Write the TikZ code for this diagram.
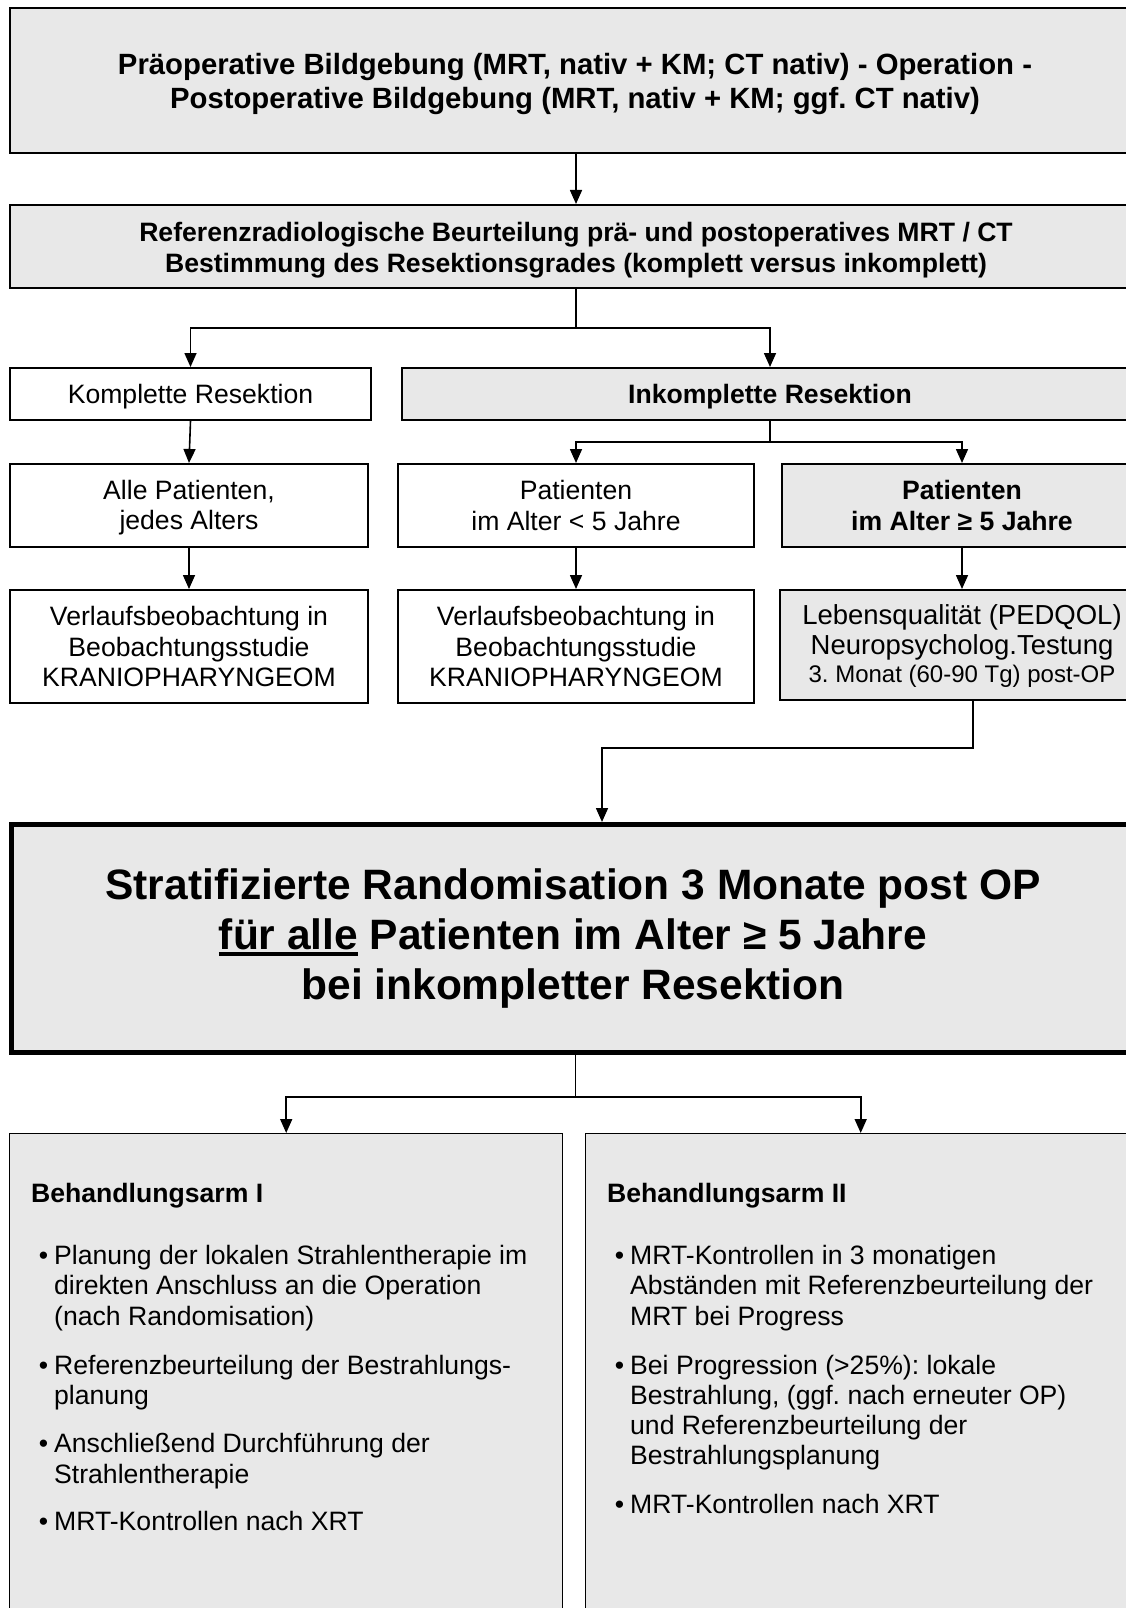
\documentclass[tikz,border=0pt]{standalone}
\usepackage{fontspec}
\setmainfont{Liberation Sans}
\usetikzlibrary{arrows.meta}
\definecolor{boxgray}{RGB}{232,232,232}
\newcommand\ulbar[1]{\setbox0\hbox{#1}\rlap{\rule[-6pt]{\wd0}{3.5pt}}\box0\relax}
\newcommand\bul{\llap{•\hspace{6pt}}}
\newcommand\lift[1]{\rule{0pt}{#1}}
\frenchspacing
\begin{document}
\frenchspacing
\begin{tikzpicture}[x=1pt,y=-1pt,
  box/.style={draw=black,line width=2pt,inner sep=0pt,anchor=north west,align=center,
    font=\fontsize{26.6}{30.5}\selectfont\frenchspacing},
  gbox/.style={box,fill=boxgray},
  boldbox/.style={font=\fontsize{26.6}{30.5}\selectfont\bfseries\frenchspacing},
  conn/.style={line width=1.6pt},
  arr/.style={line width=1.6pt,-{Triangle[length=14pt,width=12pt]}},
  txt/.style={inner sep=0pt,anchor=base west,font=\fontsize{26.6}{30}\selectfont\frenchspacing},
  btxt/.style={inner sep=0pt,anchor=base west,font=\fontsize{26.6}{30}\selectfont\bfseries},
]
\useasboundingbox (0,0) rectangle (1126,1608);
\fill[white] (0,0) rectangle (1126,1608);
\clip (0,0) rectangle (1126,1608);

% top boxes
\node[gbox,minimum width=1132pt,minimum height=145pt] (top) at (9,7) {};
\node[inner sep=0pt,align=center,font=\fontsize{29.3}{33.5}\selectfont\bfseries\frenchspacing] (toptxt) at (575,84)
  {Präoperative Bildgebung (MRT, nativ + KM; CT nativ) - Operation -\\Postoperative Bildgebung (MRT, nativ + KM; ggf. CT nativ)};
\node[gbox,font=\fontsize{26.6}{31.5}\selectfont\bfseries\frenchspacing,minimum width=1132pt,minimum height=83pt] (ref) at (9,204)
  {\lift{27pt}Referenzradiologische Beurteilung prä- und postoperatives MRT / CT\\Bestimmung des Resektionsgrades (komplett versus inkomplett)};

% resection level
\node[box,minimum width=361pt,minimum height=52pt] (komp) at (9,367) {\lift{25.5pt}Komplette Resektion};
\node[gbox,boldbox,minimum width=736pt,minimum height=52pt] (inkomp) at (401,367) {\lift{25.5pt}Inkomplette Resektion};

% patient groups
\node[box,minimum width=358pt,minimum height=83pt] (alle) at (9,463) {\lift{24pt}Alle Patienten,\\jedes Alters};
\node[box,minimum width=356pt,minimum height=83pt] (pk5) at (397,463) {Patienten\\im Alter < 5 Jahre};
\node[gbox,boldbox,minimum width=360pt,minimum height=83pt] (pg5) at (781,463) {Patienten\\im Alter ≥ 5 Jahre};

% follow-up boxes
\node[box,minimum width=358pt,minimum height=113pt] (verl1) at (9,589) {Verlaufsbeobachtung in\\Beobachtungsstudie\\KRANIOPHARYNGEOM};
\node[box,minimum width=356pt,minimum height=113pt] (verl2) at (397,589) {Verlaufsbeobachtung in\\Beobachtungsstudie\\KRANIOPHARYNGEOM};
\node[gbox,font=\fontsize{27.5}{30}\selectfont\frenchspacing,minimum width=364pt,minimum height=110pt] (leb) at (779,589)
  {\lift{22pt}Lebensqualität (PEDQOL)\\Neuropsycholog.Testung\\[-2pt]{\fontsize{24}{27}\selectfont 3. Monat (60-90 Tg) post-OP}};

% randomisation
\node[gbox,line width=5pt,minimum width=1128pt,minimum height=228pt] (rand) at (9,822) {};
\node[inner sep=0pt,align=center,font=\fontsize{42.5}{50}\selectfont\bfseries] (randtxt) at (573,939)
  {Stratifizierte Randomisation 3 Monate post OP\\\ulbar{für alle} Patienten im Alter ≥ 5 Jahre\\bei inkompletter Resektion};

% arms
\node[gbox,line width=1.4pt,minimum width=553pt,minimum height=600pt] (arm1) at (9,1133) {};
\node[gbox,line width=1.4pt,minimum width=550pt,minimum height=600pt] (arm2) at (585,1133) {};

\node[btxt] (a1t) at (31,1202.5) {Behandlungsarm I};
\node[txt] (a1l1) at (54,1264.5) {\bul Planung der lokalen Strahlentherapie im};
\node[txt] (a1l2) at (54,1294.5) {direkten Anschluss an die Operation};
\node[txt] (a1l3) at (54,1325) {(nach Randomisation)};
\node[txt] (a1l4) at (54,1374) {\bul Referenzbeurteilung der Bestrahlungs-};
\node[txt] (a1l5) at (54,1404.5) {planung};
\node[txt] (a1l6) at (54,1452.5) {\bul Anschließend Durchführung der};
\node[txt] (a1l7) at (54,1483) {Strahlentherapie};
\node[txt] (a1l8) at (54,1530.5) {\bul MRT-Kontrollen nach XRT};

\node[btxt] (a2t) at (607,1202.5) {Behandlungsarm II};
\node[txt] (a2l1) at (630,1264.5) {\bul MRT-Kontrollen in 3 monatigen};
\node[txt] (a2l2) at (630,1294.5) {Abständen mit Referenzbeurteilung der};
\node[txt] (a2l3) at (630,1325) {MRT bei Progress};
\node[txt] (a2l4) at (630,1374) {\bul Bei Progression (>25\%): lokale};
\node[txt] (a2l5) at (630,1404.5) {Bestrahlung, (ggf. nach erneuter OP)};
\node[txt] (a2l6) at (630,1434.5) {und Referenzbeurteilung der};
\node[txt] (a2l7) at (630,1464.5) {Bestrahlungsplanung};
\node[txt] (a2l8) at (630,1513.5) {\bul MRT-Kontrollen nach XRT};

% connectors
\draw[arr] (top.south) -- (ref.north);
\draw[conn] (ref.south) -- ++(0,39) coordinate (j1);
\draw[arr] (j1) -| (komp.north);
\draw[arr] (j1) -| (inkomp.north);
\draw[arr] (komp.south) -- (alle.north);
\draw[conn] (inkomp.south) -- ++(0,21) coordinate (j2);
\draw[arr] (j2) -| (pk5.north);
\draw[arr] (j2) -| (pg5.north);
\draw[arr] (alle.south) -- (verl1.north);
\draw[arr] (pk5.south) -- (verl2.north);
\draw[arr] (pg5.south) -- (leb.north);
\coordinate (c1) at (973,748);
\coordinate (c2) at (602,748);
\draw[arr] (leb.south -| c1) -- (c1) -- (c2) -- (c2 |- rand.north);
\draw[conn] (rand.south) -- ++(0,42) coordinate (j3);
\draw[arr] (j3) -| (arm1.north);
\draw[arr] (j3) -| (arm2.north);
\end{tikzpicture}
\end{document}
